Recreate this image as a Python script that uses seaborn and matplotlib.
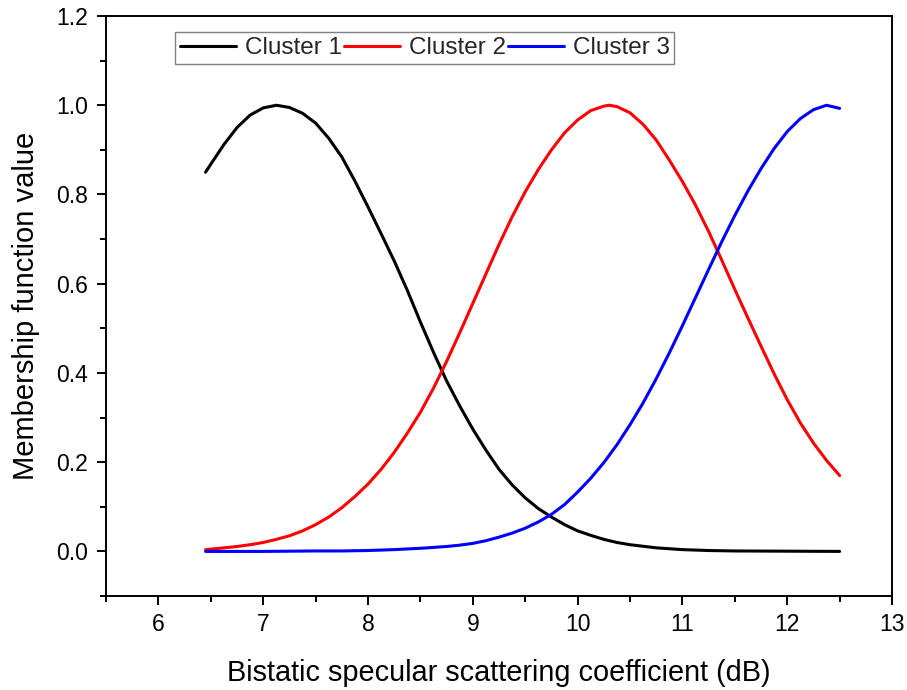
import numpy as np
import pandas as pd
import matplotlib
matplotlib.use("Agg")
import matplotlib.pyplot as plt
from matplotlib.ticker import MultipleLocator, FormatStrFormatter
import seaborn as sns

# Membership function values of each cluster versus bistatic specular scattering coefficient (dB)
x_c1 = [6.45, 6.5, 6.625, 6.75, 6.875, 7.0, 7.125, 7.25, 7.375, 7.5, 7.625, 7.75,
        7.875, 8.0, 8.125, 8.25, 8.375, 8.5, 8.625, 8.75, 8.875, 9.0, 9.125,
        9.25, 9.375, 9.5, 9.625, 9.75, 9.875, 10.0, 10.125, 10.25, 10.375, 10.5,
        10.75, 11.0, 11.25, 11.5, 12.0, 12.5]
y_c1 = [0.850, 0.868, 0.912, 0.950, 0.978, 0.994, 1.000, 0.995, 0.982, 0.960,
        0.926, 0.884, 0.830, 0.772, 0.712, 0.651, 0.585, 0.514, 0.446, 0.382,
        0.326, 0.274, 0.227, 0.184, 0.149, 0.120, 0.096, 0.077, 0.060, 0.046,
        0.036, 0.027, 0.020, 0.015, 0.008, 0.004, 0.002, 0.001, 0.0005, 0.000]

x_c2 = [6.45, 6.5, 6.625, 6.75, 6.875, 7.0, 7.125, 7.25, 7.375, 7.5, 7.625, 7.75,
        7.875, 8.0, 8.125, 8.25, 8.375, 8.5, 8.625, 8.75, 8.875, 9.0, 9.125,
        9.25, 9.375, 9.5, 9.625, 9.75, 9.875, 10.0, 10.125, 10.25, 10.3, 10.375,
        10.5, 10.625, 10.75, 10.875, 11.0, 11.125, 11.25, 11.375, 11.5, 11.625,
        11.75, 11.875, 12.0, 12.125, 12.25, 12.375, 12.5]
y_c2 = [0.004, 0.005, 0.008, 0.011, 0.015, 0.020, 0.027, 0.035, 0.046, 0.060,
        0.077, 0.098, 0.123, 0.151, 0.184, 0.222, 0.265, 0.312, 0.366, 0.426,
        0.490, 0.556, 0.622, 0.688, 0.750, 0.806, 0.856, 0.900, 0.938, 0.967,
        0.988, 0.998, 1.000, 0.997, 0.983, 0.957, 0.922, 0.877, 0.829, 0.776,
        0.717, 0.653, 0.587, 0.523, 0.460, 0.398, 0.340, 0.288, 0.243, 0.204,
        0.170]

x_c3 = [6.45, 6.5, 7.0, 7.5, 7.75, 8.0, 8.25, 8.5, 8.625, 8.75, 8.875, 9.0,
        9.125, 9.25, 9.375, 9.5, 9.625, 9.75, 9.875, 10.0, 10.125, 10.25,
        10.375, 10.5, 10.625, 10.75, 10.875, 11.0, 11.125, 11.25, 11.375, 11.5,
        11.625, 11.75, 11.875, 12.0, 12.125, 12.25, 12.375, 12.5]
y_c3 = [0.000, 0.000, 0.000, 0.001, 0.001, 0.002, 0.004, 0.007, 0.009, 0.011,
        0.014, 0.018, 0.024, 0.032, 0.041, 0.052, 0.066, 0.083, 0.105, 0.133,
        0.164, 0.199, 0.239, 0.284, 0.333, 0.387, 0.445, 0.506, 0.569, 0.632,
        0.694, 0.753, 0.808, 0.858, 0.903, 0.941, 0.970, 0.990, 1.000, 0.993]

cluster_names = ["Cluster 1", "Cluster 2", "Cluster 3"]
cluster_colors = ["#000000", "#ff0000", "#0000ff"]

df = pd.concat([
    pd.DataFrame({"x": x_c1, "y": y_c1, "cluster": cluster_names[0]}),
    pd.DataFrame({"x": x_c2, "y": y_c2, "cluster": cluster_names[1]}),
    pd.DataFrame({"x": x_c3, "y": y_c3, "cluster": cluster_names[2]}),
], ignore_index=True)

sns.set_theme(style="ticks")
plt.rcParams["font.family"] = ["Liberation Sans", "DejaVu Sans"]

fig = plt.figure(figsize=(9.07, 6.9), dpi=100)
ax = fig.add_axes([0.1169, 0.1362, 0.8666, 0.8406])

sns.lineplot(data=df, x="x", y="y", hue="cluster", hue_order=cluster_names,
             palette=cluster_colors, estimator=None, sort=False,
             linewidth=2.2, legend=False, ax=ax)
for line in ax.get_lines():
    line.set_solid_joinstyle("round")
    line.set_solid_capstyle("round")

ax.set_xlim(5.5, 13)
ax.set_ylim(-0.1, 1.2)
ax.set_xticks([6, 7, 8, 9, 10, 11, 12, 13])
ax.set_yticks([0.0, 0.2, 0.4, 0.6, 0.8, 1.0, 1.2])
ax.xaxis.set_minor_locator(MultipleLocator(0.5))
ax.yaxis.set_minor_locator(MultipleLocator(0.1))
ax.yaxis.set_major_formatter(FormatStrFormatter("%.1f"))

for side in ["left", "right", "top", "bottom"]:
    ax.spines[side].set_visible(True)
    ax.spines[side].set_color("black")
    ax.spines[side].set_linewidth(1.4)

ax.tick_params(axis="both", which="both", direction="out", color="black",
               top=False, right=False, width=1.4)
ax.tick_params(axis="both", which="major", length=6.5, labelsize=16.5,
               labelcolor="black")
ax.tick_params(axis="x", which="major", pad=6)
ax.tick_params(axis="y", which="major", pad=6.5)
ax.tick_params(axis="both", which="minor", length=4)

ax.set_xlabel("Bistatic specular scattering coefficient (dB)", fontsize=20.8,
              labelpad=16, color="black")
ax.set_ylabel("Membership function value", fontsize=21, labelpad=11.5,
              color="black")

leg = ax.legend(ax.get_lines()[:3], cluster_names, loc="upper left",
                bbox_to_anchor=(0.088, 0.972), borderaxespad=0, ncol=3,
                fontsize=17.5, frameon=True, fancybox=False,
                handlelength=2.3, handletextpad=0.37, columnspacing=0.08,
                borderpad=0.2)
leg.get_frame().set_edgecolor("#808080")
leg.get_frame().set_linewidth(1.0)
leg.get_frame().set_alpha(1.0)

fig.savefig("out.png", dpi=100, facecolor="white")
